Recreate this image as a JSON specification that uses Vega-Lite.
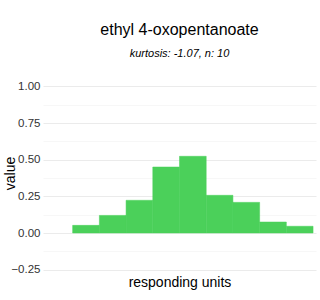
{
  "$schema": "https://vega.github.io/schema/vega-lite/v6.json",
  "autosize": {"type": "none"},
  "width": 273,
  "height": 198,
  "padding": {"left": 43, "top": 79, "right": 4, "bottom": 23},
  "background": "white",
  "title": {
    "text": "ethyl 4-oxopentanoate",
    "subtitle": "kurtosis: -1.07, n: 10",
    "anchor": "middle",
    "font": "Liberation Sans",
    "fontSize": 16,
    "fontWeight": "normal",
    "color": "#000000",
    "subtitleFont": "Liberation Sans",
    "subtitleFontSize": 11,
    "subtitleFontStyle": "italic",
    "subtitleColor": "#000000",
    "subtitlePadding": 10,
    "offset": 20
  },
  "data": {
    "values": [
      {"bin_start": 1, "bin_end": 2, "value": 0.052},
      {"bin_start": 2, "bin_end": 3, "value": 0.12},
      {"bin_start": 3, "bin_end": 4, "value": 0.223},
      {"bin_start": 4, "bin_end": 5, "value": 0.45},
      {"bin_start": 5, "bin_end": 6, "value": 0.523},
      {"bin_start": 6, "bin_end": 7, "value": 0.257},
      {"bin_start": 7, "bin_end": 8, "value": 0.209},
      {"bin_start": 8, "bin_end": 9, "value": 0.075},
      {"bin_start": 9, "bin_end": 10, "value": 0.046}
    ]
  },
  "mark": {"type": "rect", "color": "#4bd05a", "stroke": "#4bd05a", "strokeWidth": 0.5, "opacity": 1},
  "encoding": {
    "x": {
      "field": "bin_start",
      "type": "quantitative",
      "scale": {"domain": [-0.11, 10.11], "nice": false, "zero": false},
      "axis": {
        "title": "responding units",
        "labels": false,
        "ticks": false,
        "domain": false,
        "grid": false,
        "titleFont": "Liberation Sans",
        "titleFontSize": 14,
        "titleFontWeight": "normal",
        "titleColor": "#000000",
        "titlePadding": -2
      }
    },
    "x2": {"field": "bin_end"},
    "y": {
      "field": "value",
      "type": "quantitative",
      "scale": {"domain": [-0.3, 1.05], "nice": false, "zero": false},
      "axis": {
        "title": "value",
        "values": [-0.25, -0.125, 0, 0.125, 0.25, 0.375, 0.5, 0.625, 0.75, 0.875, 1],
        "labelExpr": "abs(datum.value * 4 - round(datum.value * 4)) < 0.01 ? format(datum.value, '.2f') : ''",
        "ticks": false,
        "domain": false,
        "grid": true,
        "gridColor": {"condition": {"test": "abs(datum.value * 4 - round(datum.value * 4)) < 0.01", "value": "#ebebeb"}, "value": "#f7f7f7"},
        "gridWidth": 1,
        "labelFont": "Liberation Sans",
        "labelFontSize": 11.5,
        "labelColor": "#333333",
        "labelPadding": 3,
        "titleFont": "Liberation Sans",
        "titleFontSize": 14,
        "titleFontWeight": "normal",
        "titleColor": "#000000",
        "titleX": -33,
        "titleY": 94,
        "titleAngle": -90,
        "titleAlign": "center",
        "titleBaseline": "middle"
      }
    },
    "y2": {"datum": 0}
  },
  "config": {"view": {"stroke": null}}
}
